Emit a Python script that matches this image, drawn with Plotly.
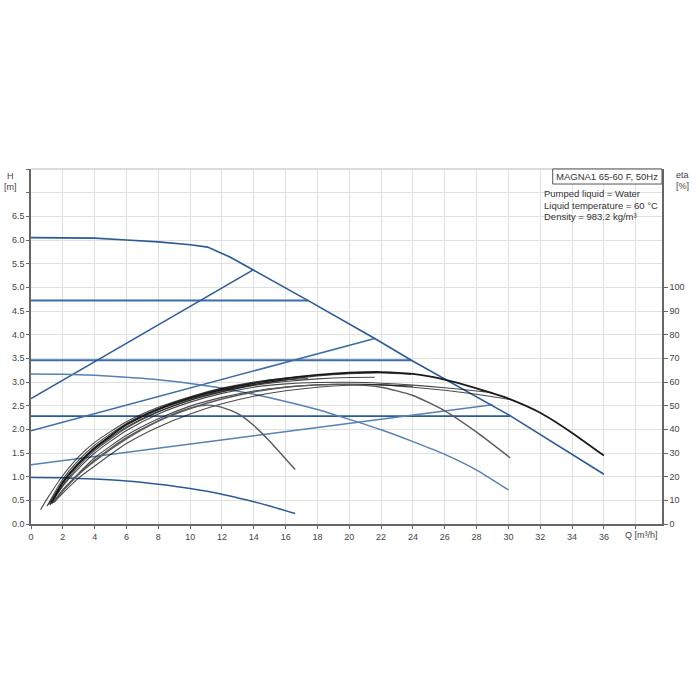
import plotly.graph_objects as go

# ---------------- data (Q in m3/h, H in m, eta in %) ----------------
# pump curves (H)
max_q = [0, 2, 4, 6, 8, 10, 11.1, 12.5, 13.96, 17.42, 21.6, 23.9, 30.1, 36]
max_h = [6.05, 6.05, 6.04, 6.0, 5.96, 5.9, 5.85, 5.64, 5.37, 4.72, 3.92, 3.46, 2.29, 1.05]

pp1_q = [0, 13.96]
pp1_h = [2.65, 5.37]
pp2_q = [0, 21.6]
pp2_h = [1.97, 3.92]
pp3_q = [0, 29.0]
pp3_h = [1.25, 2.52]

cp1_q = [0, 17.42]
cp1_h = [4.72, 4.72]
cp2_q = [0, 23.9]
cp2_h = [3.46, 3.46]
cp3_q = [0, 30.1]
cp3_h = [2.28, 2.28]

min1_q = [0, 2, 4, 6, 8, 10, 12, 14, 16, 18, 20, 22, 24, 26, 28, 30]
min1_h = [3.17, 3.165, 3.14, 3.10, 3.05, 2.97, 2.87, 2.74, 2.59, 2.42, 2.21, 1.99, 1.74, 1.47, 1.14, 0.72]
min2_q = [0, 2, 4, 6, 8, 10, 12, 13, 14, 15, 16.6]
min2_h = [0.98, 0.975, 0.95, 0.91, 0.84, 0.75, 0.63, 0.55, 0.47, 0.38, 0.22]

# efficiency curves (eta %)
t_q = [1.3, 2, 3, 4, 6, 8, 10, 12, 14, 16, 18, 20, 22, 24, 26, 28, 30, 32, 34, 36]
t_e = [9, 17.5, 25.5, 32, 42, 48.5, 53.2, 56.8, 59.5, 61.5, 63, 63.9, 64.2, 63.4, 61, 57.3, 53, 47, 38.5, 28.9]

c1_q = [0.6, 1, 2, 3, 4, 6, 8, 10, 12, 14, 16, 17.4]
c1_e = [6, 10.5, 20.5, 28.5, 34.5, 43.2, 49.3, 53.8, 57.4, 60, 61.7, 62.3]
c2_q = [1.0, 2, 3, 4, 6, 8, 10, 12, 13.96]
c2_e = [7.5, 19, 27, 33.3, 42.5, 48.8, 53.5, 57.2, 59.6]
c3_q = [1.2, 2, 3, 4, 6, 8, 10, 12, 14, 16, 18, 20, 21.6]
c3_e = [8.5, 17.5, 25.5, 31.8, 41, 47.5, 52.3, 55.8, 58.5, 60.2, 61.3, 61.9, 62]
c4_q = [1.3, 2, 3, 4, 6, 8, 10, 12, 14, 16, 18, 20, 22, 23.9]
c4_e = [9, 16.5, 24.5, 31, 40.5, 47.3, 52.3, 56, 58.8, 61, 62.6, 63.5, 63.8, 63.2]
c5_q = [1.5, 2, 3, 4, 6, 8, 10, 12, 14, 16, 18, 20, 22, 24]
c5_e = [9.5, 13, 19.5, 24.5, 34, 41, 46.5, 50.8, 54, 56.3, 57.8, 58.6, 58.8, 58.2]
c6_q = [1.1, 2, 3, 4, 6, 8, 10, 12, 14, 16, 17.4]
c6_e = [8, 18, 26, 32.5, 41.8, 48.2, 52.8, 56.3, 59, 60.8, 61.5]
b1_q = [1.2, 2, 3, 4, 6, 8, 10, 12, 14, 16, 18, 20, 22, 24, 26, 28, 29]
b1_e = [8, 16, 23.5, 30, 39.5, 46.5, 51.5, 55.2, 57.8, 59.2, 59.8, 59.9, 59.5, 58.7, 57.6, 56.2, 55.5]
b2_q = [1.4, 2, 3, 4, 6, 8, 10, 12, 14, 16, 18, 20, 22, 24, 26, 28, 30.1]
b2_e = [9, 14.5, 21.5, 28, 37.5, 44.5, 49.8, 53.5, 56.2, 57.9, 58.8, 59.1, 58.8, 57.8, 56.5, 54.8, 52.6]
g30_q = [1.3, 2, 3, 4, 6, 8, 10, 12, 14, 16, 18, 20, 22, 24, 26, 28, 30.1]
g30_e = [8.5, 14, 21, 27, 36.5, 43.5, 48.8, 52.8, 55.8, 57.8, 58.8, 58.9, 57.8, 54.3, 47.8, 38.8, 28]
g16_q = [1.4, 2, 3, 4, 5, 6, 7, 8, 9, 10, 10.5, 11, 11.5, 12, 13, 14, 15, 16, 16.6]
g16_e = [9, 14, 21, 26.5, 31.5, 36, 40, 43.6, 46.6, 48.9, 49.8, 50.2, 50, 49.3, 46.6, 41.6, 35, 27.5, 23]

x_ticks = list(range(0, 40, 2))
y_ticks = [i * 0.5 for i in range(16)]
eta_ticks = list(range(0, 101, 10))

title_text = "MAGNA1 65-60 F, 50Hz"
info_lines = ["Pumped liquid = Water", "Liquid temperature = 60 °C", "Density = 983.2 kg/m³"]

# ---------------- figure ----------------
fig = go.Figure()

DARK_BLUE = "#2a5b98"
MID_BLUE = "#3d6ca8"
LIGHT_BLUE = "#5581b5"


def add_h(q, h, color, width=1.5, shape="linear"):
    line = dict(color=color, width=width, shape=shape)
    if shape == "spline":
        line["smoothing"] = 0.6
    fig.add_trace(go.Scatter(x=q, y=h, mode="lines", hoverinfo="skip", line=line))


def add_e(q, e, color, width=1.1):
    fig.add_trace(go.Scatter(x=q, y=e, mode="lines", yaxis="y2", hoverinfo="skip",
                             line=dict(color=color, width=width, shape="spline", smoothing=0.6)))


add_h(cp1_q, cp1_h, MID_BLUE, 2)
add_h(cp2_q, cp2_h, MID_BLUE, 2)
add_h(cp3_q, cp3_h, DARK_BLUE, 1.6)
add_h(pp1_q, pp1_h, DARK_BLUE, 1.5)
add_h(pp2_q, pp2_h, MID_BLUE, 1.5)
add_h(pp3_q, pp3_h, LIGHT_BLUE, 1.5)
add_h(min1_q, min1_h, LIGHT_BLUE, 1.5, "spline")
add_h(min2_q, min2_h, DARK_BLUE, 1.5, "spline")
add_h(max_q, max_h, DARK_BLUE, 1.6, "linear")

BUNDLE = "rgba(15,15,15,0.75)"
for q, e in [(c1_q, c1_e), (c2_q, c2_e), (c3_q, c3_e), (c4_q, c4_e), (c5_q, c5_e),
             (c6_q, c6_e), (b1_q, b1_e), (b2_q, b2_e)]:
    add_e(q, e, BUNDLE, 1.1)
add_e(g30_q, g30_e, "#5a5a5a", 1.4)
add_e(g16_q, g16_e, "#5a5a5a", 1.4)
add_e(t_q, t_e, "#1a1a1a", 1.8)

FONT = "Liberation Sans, Arial, sans-serif"
AX = "#666666"
GRID = "#e0e0e0"

fig.update_layout(
    width=700, height=700,
    margin=dict(l=31, r=38, t=169, b=176),
    paper_bgcolor="white", plot_bgcolor="white",
    showlegend=False,
    font=dict(family=FONT, size=9, color="#444444"),
    xaxis=dict(range=[0, 39.65], tickvals=x_ticks,
               ticktext=[str(v) if v <= 36 else "" for v in x_ticks],
               showgrid=True, gridcolor=GRID, gridwidth=1, zeroline=False,
               showline=True, linecolor=AX, linewidth=1.5,
               ticks="outside", ticklen=3, tickcolor=AX,
               tickfont=dict(size=9, color="#444444")),
    yaxis=dict(range=[0, 7.5], tickvals=y_ticks,
               ticktext=[("%.1f" % v) if v <= 6.5 else "" for v in y_ticks],
               showgrid=True, gridcolor=GRID, gridwidth=1, zeroline=False,
               showline=True, linecolor=AX, linewidth=1.5,
               ticks="outside", ticklen=3, tickcolor=AX,
               tickfont=dict(size=9, color="#444444")),
    yaxis2=dict(range=[0, 150], tickvals=eta_ticks, overlaying="y", side="right",
                showgrid=False, zeroline=False,
                showline=True, linecolor=AX, linewidth=1.5,
                ticks="outside", ticklen=4, tickcolor=AX,
                tickfont=dict(size=9, color="#444444")),
)

# top border
fig.add_shape(type="line", xref="paper", yref="paper", x0=0, x1=1, y0=1, y1=1,
              line=dict(color="#d0d0d0", width=1.5))
# title box
fig.add_shape(type="rect", xref="paper", yref="paper", x0=0.8268, x1=1.0, y0=0.9577, y1=1.0,
              line=dict(color="#555555", width=1), fillcolor="white", layer="above")

ann = []
ann.append(dict(text=title_text, xref="paper", yref="paper", x=0.9136, y=0.979,
                xanchor="center", yanchor="middle", showarrow=False,
                font=dict(size=9.5, color="#333333", family=FONT)))
for txt, yy in zip(info_lines, [0.9296, 0.8975, 0.8665]):
    ann.append(dict(text=txt, xref="paper", yref="paper", x=0.8094, y=yy,
                    xanchor="left", yanchor="middle", showarrow=False,
                    font=dict(size=9.5, color="#333333", family=FONT)))
ann.append(dict(text="H", xref="paper", yref="paper", x=-0.0317, y=0.981,
                xanchor="center", yanchor="middle", showarrow=False,
                font=dict(size=9, color="#444444", family=FONT)))
ann.append(dict(text="[m]", xref="paper", yref="paper", x=-0.0317, y=0.950,
                xanchor="center", yanchor="middle", showarrow=False,
                font=dict(size=9, color="#444444", family=FONT)))
ann.append(dict(text="eta", xref="paper", yref="paper", x=1.0317, y=0.983,
                xanchor="center", yanchor="middle", showarrow=False,
                font=dict(size=9, color="#444444", family=FONT)))
ann.append(dict(text="[%]", xref="paper", yref="paper", x=1.0317, y=0.953,
                xanchor="center", yanchor="middle", showarrow=False,
                font=dict(size=9, color="#444444", family=FONT)))
ann.append(dict(text="Q [m³/h]", xref="x", yref="paper", x=38.35, y=0,
                xanchor="center", yanchor="top", yshift=-4, showarrow=False,
                font=dict(size=9, color="#444444", family=FONT)))
fig.update_layout(annotations=ann)

fig.write_html("out.html")
